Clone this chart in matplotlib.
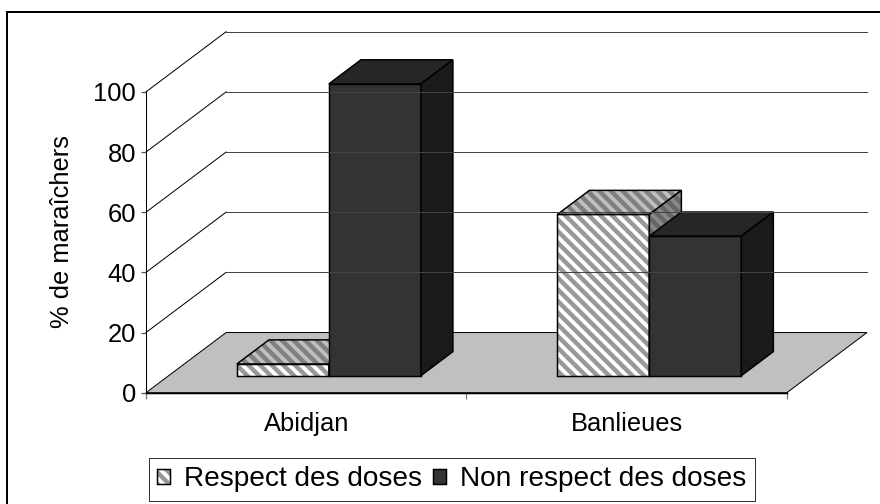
import matplotlib.pyplot as plt
from matplotlib.patches import Polygon, Rectangle, Patch

categories = ["Abidjan", "Banlieues"]
series = ["Respect des doses", "Non respect des doses"]
respect = [3.9, 53.6]
non_respect = [97.0, 46.4]
y_ticks = [0, 20, 40, 60, 80, 100]

plt.rcParams['font.family'] = ['Liberation Sans', 'DejaVu Sans']
plt.rcParams['hatch.linewidth'] = 4.6

DPI = 70
PT = 72 / DPI  # points per pixel
fig = plt.figure(figsize=(880 / DPI, 504 / DPI), dpi=DPI)
ax = fig.add_axes([146 / 880, (504 - 392.7) / 504, 721 / 880, 361 / 504])
ax.set_xlim(0, 2.25)
ax.set_ylim(0, 120)

# oblique projection: z is depth from 0 (front) to 1 (back wall)
DX, DY = 0.25, 20
STRIPES = '\\\\'


def proj(x, y, z):
    return (x + z * DX, y + z * DY)


def face(pts, fc, hatch=None, hc=None):
    if hatch:
        ax.add_patch(Polygon(pts, closed=True, facecolor=fc, edgecolor=hc,
                             hatch=hatch, lw=0, clip_on=False))
        ax.add_patch(Polygon(pts, closed=True, fill=False, edgecolor='black',
                             lw=1.5 * PT, clip_on=False, joinstyle='miter'))
    else:
        ax.add_patch(Polygon(pts, closed=True, facecolor=fc, edgecolor='black',
                             lw=1.5 * PT, clip_on=False, joinstyle='miter'))


n = len(categories)

# floor
floor = [proj(0, 0, 0), proj(n, 0, 0), proj(n, 0, 1), proj(0, 0, 1)]
ax.add_patch(Polygon(floor, closed=True, facecolor='#c0c0c0', edgecolor='black',
                     lw=1 * PT, clip_on=False))

# gridlines on side and back wall
for v in y_ticks[1:]:
    x0, y0 = proj(0, v, 0)
    x1, y1 = proj(0, v, 1)
    x2, y2 = proj(n, v, 1)
    ax.plot([x0, x1], [y0, y1], color='black', lw=1 * PT, clip_on=False)
    ax.plot([x1, x2], [y1, y2], color='#444444', lw=1 * PT, clip_on=False)

# bars
bar_w = 0.287
z0, z1 = 0.283, 0.683
styles = [
    dict(front=('white', STRIPES, '#999999'), top=('#c0c0c0', STRIPES, '#808080'),
         side=('#888888', STRIPES, '#666666')),
    dict(front=('#333333', None, None), top=('#262626', None, None),
         side=('#1a1a1a', None, None)),
]
for i in range(n):
    for j, vals in enumerate([respect, non_respect]):
        v = vals[i]
        xa = i + 0.5 - bar_w + j * bar_w
        xb = xa + bar_w
        st = styles[j]
        face([proj(xa, 0, z0), proj(xb, 0, z0), proj(xb, v, z0), proj(xa, v, z0)],
             st['front'][0], st['front'][1], st['front'][2])
        face([proj(xa, v, z0), proj(xb, v, z0), proj(xb, v, z1), proj(xa, v, z1)],
             st['top'][0], st['top'][1], st['top'][2])
        face([proj(xb, 0, z0), proj(xb, 0, z1), proj(xb, v, z1), proj(xb, v, z0)],
             st['side'][0], st['side'][1], st['side'][2])

# axes
for s in ['top', 'right']:
    ax.spines[s].set_visible(False)
ax.spines['left'].set_bounds(0, 100)
ax.spines['bottom'].set_bounds(0, n)
ax.spines['left'].set_linewidth(1 * PT)
ax.spines['bottom'].set_linewidth(1.5 * PT)
ax.set_yticks(y_ticks)
ax.tick_params(axis='y', length=5 * PT, width=1.2 * PT, color='#555555',
               pad=5 * PT, labelsize=25.5 * PT)
ax.set_xticks(range(n + 1))
ax.set_xticklabels([])
ax.tick_params(axis='x', which='major', length=6 * PT, width=1.2 * PT, color='#777777')
ax.set_xticks([i + 0.5 for i in range(n)], categories, minor=True)
ax.tick_params(axis='x', which='minor', length=0, pad=19 * PT, labelsize=25.5 * PT)

fig.text(62 / 880, 1 - 232 / 504, "% de maraîchers", rotation=90,
         ha='center', va='center', fontsize=25.5 * PT)

# legend
h_respect = (Patch(facecolor='white', edgecolor='#999999', hatch=STRIPES, lw=0),
             Patch(fill=False, edgecolor='black', lw=1.5 * PT))
h_non = Patch(facecolor='#333333', edgecolor='black', lw=1.5 * PT)
leg = fig.legend([h_respect, h_non], series, loc='upper left',
                 bbox_to_anchor=(149 / 880, 1 - 458 / 504), ncol=2,
                 fontsize=28 * PT, frameon=True, fancybox=False,
                 edgecolor='black', handlelength=0.46, handleheight=0.46,
                 handletextpad=0.5, columnspacing=0.4, borderpad=0.3,
                 borderaxespad=0)
leg.get_frame().set_linewidth(1 * PT)

# outer chart border
fig.add_artist(Rectangle((7 / 880, -0.1), 1.0, 1 - 12 / 504 + 0.1,
                         transform=fig.transFigure, fill=False,
                         edgecolor='black', lw=2 * PT))

fig.savefig("out.png", dpi=DPI)
